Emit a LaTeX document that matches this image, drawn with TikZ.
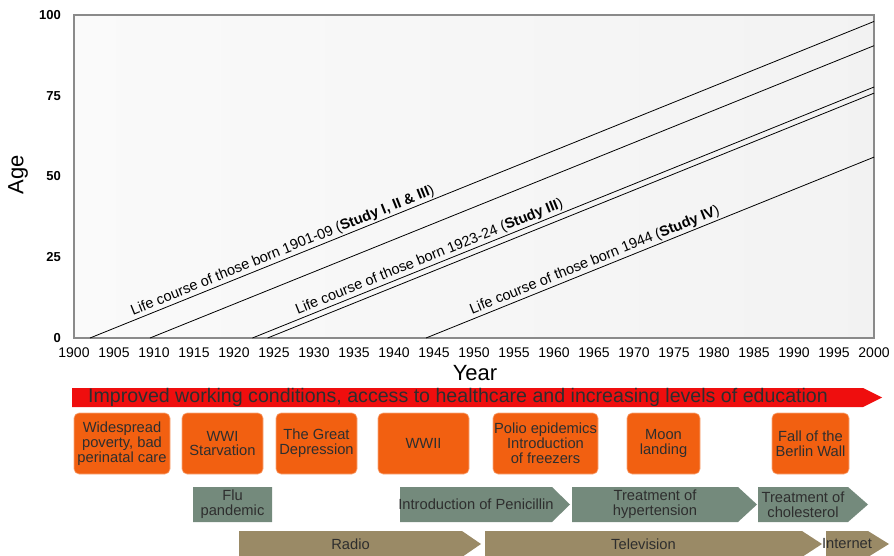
\documentclass[tikz,border=0pt]{standalone}
\usepackage{fontspec}
\setmainfont{Liberation Sans}
\definecolor{bandred}{HTML}{EF0E0E}
\definecolor{eventorange}{HTML}{F26011}
\definecolor{medgreen}{HTML}{748A7C}
\definecolor{techtan}{HTML}{9A8A66}
\definecolor{textdark}{HTML}{2E2E2E}
\definecolor{framegray}{HTML}{8A8A8A}

\tikzset{
  cohort/.style={line width=0.8pt, black},
  cohortlabel/.style={sloped, above, font=\fontsize{14.5}{16}\selectfont, inner sep=1.5pt},
  xticklabel/.style={font=\fontsize{14}{16}\selectfont, inner sep=0pt},
  yticklabel/.style={font=\bfseries\fontsize{13}{15}\selectfont, inner sep=0pt, anchor=east},
  axistitle/.style={font=\fontsize{22}{24}\selectfont, inner sep=0pt},
  eventbox/.style={fill=eventorange, draw=eventorange!55!white, line width=0.6pt,
    rounded corners=5pt, text=textdark, align=center,
    font=\fontsize{14.7}{14.8}\selectfont, inner sep=1pt},
  bartext/.style={text=textdark, align=center, font=\fontsize{14.7}{14.8}\selectfont, inner sep=0pt},
}

\begin{document}
\begin{tikzpicture}[x=1pt,y=-1pt]
\newcommand{\timelinebar}[8]{
  \fill[#7] (#2,#5) -- (#3,#5) -- (#4,{(#5+#6)/2}) -- (#3,#6) -- (#2,#6) -- cycle;
  \node[bartext] (#1) at ({(#2+#3)/2},{(#5+#6)/2}) {#8};
}
\useasboundingbox (0,0) rectangle (894,556);

% plot area
\fill[left color=white!98!black, right color=black!5] (74,15) rectangle (874,338);
\draw[framegray, line width=1.5pt] (74,15) rectangle (874,338);

\begin{scope}[shift={(74pt,-338pt)}, x=8pt, y=3.23pt]
\draw[cohort] (2,0) -- node[cohortlabel, pos=0.25] (bornA) {Life course of those born 1901-09 (\textbf{Study I, II \& III})} (100,98);
\draw[cohort] (9.5,0) -- (100,90.5);
\draw[cohort] (22.3,0) -- node[cohortlabel, pos=0.29] (bornB) {Life course of those born 1923-24 (\textbf{Study III})} (100,77.7);
\draw[cohort] (24.2,0) -- (100,75.8);
\draw[cohort] (44,0) -- node[cohortlabel, pos=0.384] (bornC) {Life course of those born 1944 (\textbf{Study IV})} (100,56);

\foreach \lbl in {1900,1905,...,2000}
  \node[xticklabel, yshift=-15pt] (x\lbl) at (\lbl-1900,0) {\lbl};
\foreach \age in {0,25,50,75,100}
  \node[yticklabel, xshift=-13pt] (y\age) at (0,\age) {\age};
\end{scope}

\node[axistitle, rotate=90] (agetitle) at (18,175) {Age};
\node[axistitle] (yeartitle) at (475,373) {Year};

% improvement band
\fill[bandred] (72,388) -- (863,388) -- (882,397.5) -- (863,407) -- (72,407) -- cycle;
\node[bartext, font=\fontsize{19.6}{21}\selectfont] (improved) at (458,397.5)
  {Improved working conditions, access to healthcare and increasing levels of education};

% events
\node[eventbox, minimum width=96pt, minimum height=61pt] (poverty) at (122,443.5) {Widespread\\poverty, bad\\perinatal care};
\node[eventbox, minimum width=81pt, minimum height=61pt] (wwi) at (222.5,443.5) {WWI\\Starvation};
\node[eventbox, minimum width=81pt, minimum height=61pt] (depression) at (316.5,443.5) {The Great\\Depression};
\node[eventbox, minimum width=91pt, minimum height=61pt] (wwii) at (423.5,443.5) {WWII};
\node[eventbox, minimum width=105pt, minimum height=61pt] (polio) at (545.5,443.5) {Polio epidemics\\Introduction\\of freezers};
\node[eventbox, minimum width=73pt, minimum height=61pt] (moon) at (663.5,443.5) {Moon\\landing};
\node[eventbox, minimum width=77pt, minimum height=61pt] (berlin) at (810.5,443.5) {Fall of the\\Berlin Wall};

% medicine
\timelinebar{flu}{193}{272}{272}{487}{522}{medgreen}{Flu\\pandemic}
\timelinebar{penicillin}{400}{552}{570}{487}{522}{medgreen}{Introduction of Penicillin}
\timelinebar{hypertension}{572}{738}{757}{487}{522}{medgreen}{Treatment of\\hypertension}
\timelinebar{cholesterol}{758}{848}{868}{487}{522}{medgreen}{Treatment of\\cholesterol}

% media
\timelinebar{radio}{239}{462}{481}{531}{557}{techtan}{Radio}
\timelinebar{television}{485}{802}{822}{531}{557}{techtan}{Television}
\timelinebar{internet}{826}{868}{889}{531}{557}{techtan}{Internet}

\end{tikzpicture}
\end{document}
